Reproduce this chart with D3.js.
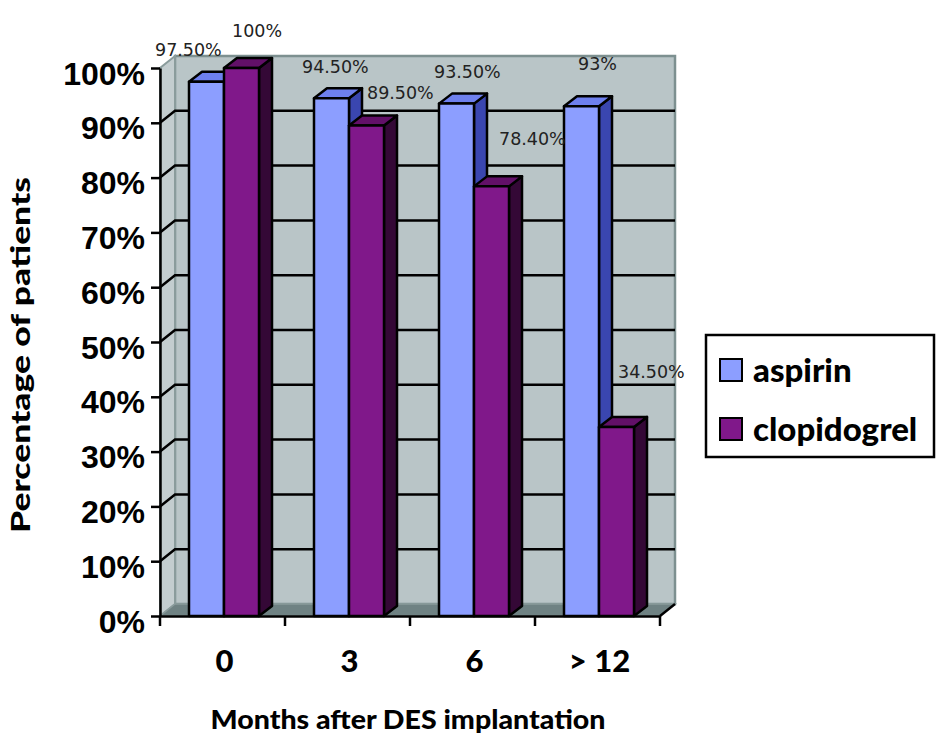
<!DOCTYPE html>
<html><head><meta charset="utf-8">
<script src="https://cdn.jsdelivr.net/npm/d3@7"></script>
<style>html,body{margin:0;padding:0;background:#fff;}svg{display:block;}</style>
</head><body>
<svg id="chart" width="945" height="743"></svg>
<script>
// ---- data ----
const categories = ["0", "3", "6", "> 12"];
const seriesNames = ["aspirin", "clopidogrel"];
const aspirin = [97.5, 94.5, 93.5, 93];
const clopidogrel = [100, 89.5, 78.4, 34.5];
const aspirinLabels = ["97.50%", "94.50%", "93.50%", "93%"];
const clopidogrelLabels = ["100%", "89.50%", "78.40%", "34.50%"];
const yTicks = [0, 10, 20, 30, 40, 50, 60, 70, 80, 90, 100];
const yTickLabels = ["0%", "10%", "20%", "30%", "40%", "50%", "60%", "70%", "80%", "90%", "100%"];
const xTitle = "Months after DES implantation";
const yTitle = "Percentage of patients";

// ---- styles / layout ----
const colors = {
  aspirin: {front: "#8c9eff", side: "#3a46b0", top: "#6e80ee"},
  clopidogrel: {front: "#80188a", side: "#340836", top: "#621068"}
};
// manual data-label nudges (relative to bar's front top-left corner)
const labelNudge = {
  aspirin: [[-34, -26], [-12, -25], [-5, -26], [14, -36]],
  clopidogrel: [[8, -31], [18, -27], [25, -41], [19, -49]]
};
const wallD = {dx: 15, dy: -12};
const barD = {dx: 13, dy: -10};

const svg = d3.select("#chart");
const x = d3.scaleBand().domain(categories).range([160, 660]);
const y = d3.scaleLinear().domain([0, 100]).range([616, 68]);
const xs = d3.scaleBand().domain(seriesNames).range([29, 99]);

const pts = a => a.map(p => p.join(",")).join(" ");
const x0 = x.range()[0], x1 = x.range()[1];

// back wall
svg.append("rect")
  .attr("x", x0 + wallD.dx).attr("y", y(100) + wallD.dy)
  .attr("width", x1 - x0).attr("height", y(0) - y(100))
  .attr("fill", "#b9c5c7").attr("stroke", "#7d9090").attr("stroke-width", 2.5);
// left side wall
svg.append("polygon")
  .attr("points", pts([[x0, y(0)], [x0, y(100)], [x0 + wallD.dx, y(100) + wallD.dy], [x0 + wallD.dx, y(0) + wallD.dy]]))
  .attr("fill", "#c3cdcf").attr("stroke", "#8a9c9c").attr("stroke-width", 2);

// gridlines
const grid = svg.append("g");
yTicks.filter(t => t > 0 && t < 100).forEach(t => {
  grid.append("polyline")
    .attr("points", pts([[x0, y(t)], [x0 + wallD.dx, y(t) + wallD.dy], [x1 + wallD.dx, y(t) + wallD.dy]]))
    .attr("fill", "none").attr("stroke", "#000").attr("stroke-width", 2.5);
});

// floor
svg.append("polygon")
  .attr("points", pts([[x0, y(0)], [x1, y(0)], [x1 + wallD.dx, y(0) + wallD.dy], [x0 + wallD.dx, y(0) + wallD.dy]]))
  .attr("fill", "#6f8283").attr("stroke", "#8a9c9c").attr("stroke-width", 1.5);
svg.append("line")
  .attr("x1", x1).attr("y1", y(0)).attr("x2", x1 + wallD.dx).attr("y2", y(0) + wallD.dy)
  .attr("stroke", "#000").attr("stroke-width", 2.5);

// bars
const values = {aspirin: aspirin, clopidogrel: clopidogrel};
const labels = {aspirin: aspirinLabels, clopidogrel: clopidogrelLabels};
const bars = svg.append("g");
categories.forEach((c, i) => {
  seriesNames.forEach(s => {
    const v = values[s][i];
    const bx = x(c) + xs(s), bw = xs.bandwidth();
    const yt = y(v), yb = y(0);
    const col = colors[s];
    const g = bars.append("g").attr("stroke", "#000").attr("stroke-width", 2.5).attr("stroke-linejoin", "round");
    g.append("polygon")
      .attr("points", pts([[bx + bw, yt], [bx + bw + barD.dx, yt + barD.dy], [bx + bw + barD.dx, yb + barD.dy], [bx + bw, yb]]))
      .attr("fill", col.side);
    g.append("polygon")
      .attr("points", pts([[bx, yt], [bx + barD.dx, yt + barD.dy], [bx + bw + barD.dx, yt + barD.dy], [bx + bw, yt]]))
      .attr("fill", col.top);
    g.append("rect").attr("x", bx).attr("y", yt).attr("width", bw).attr("height", yb - yt)
      .attr("fill", col.front);
  });
});

// axes
const yAxis = d3.axisLeft(y).tickValues(yTicks).tickFormat((d, i) => yTickLabels[i])
  .tickSize(9).tickSizeOuter(0).tickPadding(6);
const gy = svg.append("g").attr("transform", `translate(${x0},0)`).call(yAxis);
gy.select(".domain").attr("stroke", "#000").attr("stroke-width", 2.5);
gy.selectAll(".tick line").attr("stroke", "#000").attr("stroke-width", 2.5);
gy.selectAll(".tick text").attr("fill", "#000")
  .style("font-family", "'Liberation Sans', Arial, sans-serif").style("font-weight", "bold")
  .style("font-size", "32px").attr("dy", "0.5em");

const xAxis = d3.axisBottom(x).tickSize(0).tickPadding(0);
const gx = svg.append("g").attr("transform", `translate(0,${y(0)})`).call(xAxis);
gx.select(".domain").attr("stroke", "#000").attr("stroke-width", 2.5);
gx.selectAll(".tick text").attr("fill", "#000").attr("y", 56).attr("dy", 0).attr("dx", 2)
  .style("font-family", "Lato, sans-serif").style("font-weight", "900").style("font-size", "31px");
// boundary ticks
const bounds = categories.map(c => x(c)).concat([x1]);
gx.selectAll("line.btick").data(bounds).enter().append("line").attr("class", "btick")
  .attr("x1", d => d).attr("x2", d => d).attr("y1", 0).attr("y2", 10)
  .attr("stroke", "#000").attr("stroke-width", 2.5);

// data labels
const lab = svg.append("g").style("font-family", "'DejaVu Sans', Verdana, sans-serif")
  .style("font-size", "17.5px").attr("fill", "#222");
categories.forEach((c, i) => {
  seriesNames.forEach(s => {
    const bx = x(c) + xs(s);
    const yt = y(values[s][i]);
    const n = labelNudge[s][i];
    lab.append("text").attr("x", bx + n[0]).attr("y", yt + n[1]).text(labels[s][i]);
  });
});

// titles
svg.append("text").attr("x", 408).attr("y", 729).attr("text-anchor", "middle")
  .style("font-family", "Lato, sans-serif").style("font-weight", "900").style("font-size", "26px")
  .attr("textLength", 395).attr("lengthAdjust", "spacingAndGlyphs").text(xTitle);
svg.append("text").attr("transform", "translate(30,355) rotate(-90)").attr("text-anchor", "middle")
  .style("font-family", "Lato, sans-serif").style("font-weight", "900").style("font-size", "26px")
  .attr("textLength", 356).attr("lengthAdjust", "spacingAndGlyphs").text(yTitle);

// legend
const lg = svg.append("g");
lg.append("rect").attr("x", 706).attr("y", 335).attr("width", 228).attr("height", 122)
  .attr("fill", "#fff").attr("stroke", "#000").attr("stroke-width", 2.5);
const legendY = [370, 429];
seriesNames.forEach((s, i) => {
  lg.append("rect").attr("x", 720).attr("y", legendY[i] - 11).attr("width", 22).attr("height", 22)
    .attr("fill", colors[s].front).attr("stroke", "#000").attr("stroke-width", 2);
  lg.append("text").attr("x", 753).attr("y", legendY[i] + 12)
    .style("font-family", "Lato, sans-serif").style("font-weight", "900").style("font-size", "33px")
    .attr("fill", "#000").text(s);
});
</script>
</body></html>
